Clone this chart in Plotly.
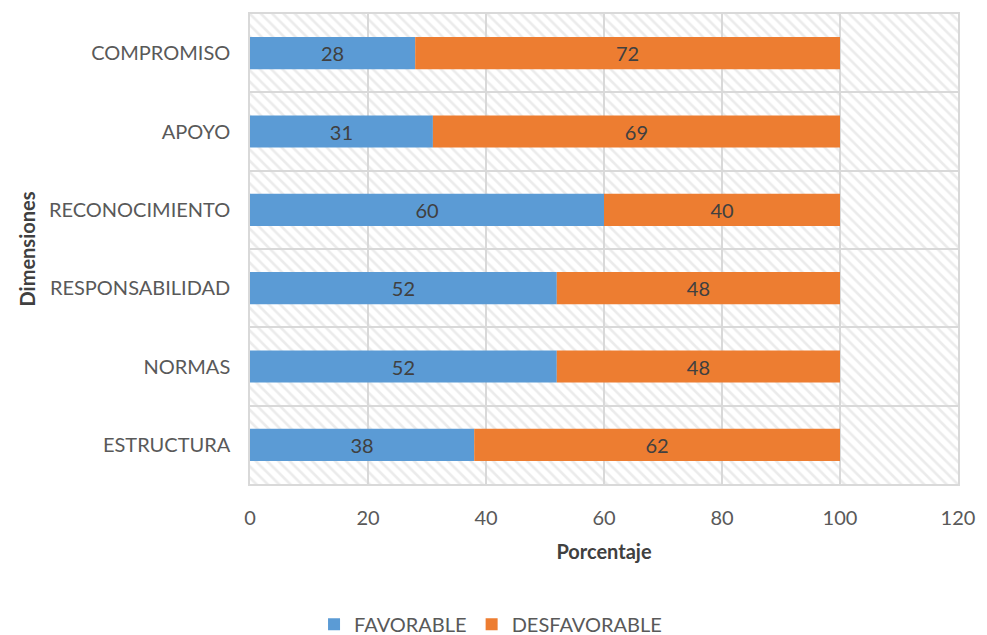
import plotly.graph_objects as go

# Survey dimensions, top to bottom as displayed
dimensiones = ["COMPROMISO", "APOYO", "RECONOCIMIENTO", "RESPONSABILIDAD", "NORMAS", "ESTRUCTURA"]
favorable = [28, 31, 60, 52, 52, 38]
desfavorable = [72, 69, 40, 48, 48, 62]
x_ticks = [0, 20, 40, 60, 80, 100, 120]

# numeric y positions so grid lines can sit between categories
n = len(dimensiones)
ypos = list(range(n - 1, -1, -1))

BLUE = "#5B9BD5"
ORANGE = "#ED7D31"
TEXT = "#595959"
GRID = "#d9d9d9"
FONT = "Lato"

fig = go.Figure()

# hatched plot-area background, one band per category (transparent so grid shows)
fig.add_trace(go.Bar(
    y=ypos, x=[x_ticks[-1]] * n, orientation="h", width=1,
    marker=dict(color="rgba(0,0,0,0)", line=dict(width=0),
                pattern=dict(shape="\\", fgcolor="#d8d8d8", bgcolor="rgba(0,0,0,0)",
                             size=8, solidity=0.33)),
    showlegend=False, hoverinfo="skip",
))

fig.add_trace(go.Bar(
    name="FAVORABLE", y=ypos, x=favorable, base=[0] * n, orientation="h",
    width=0.41, marker=dict(color=BLUE, line=dict(width=0)),
    text=favorable, textposition="inside", insidetextanchor="middle",
    textfont=dict(family=FONT, size=20, color="#404040"),
))
fig.add_trace(go.Bar(
    name="DESFAVORABLE", y=ypos, x=desfavorable, base=favorable, orientation="h",
    width=0.41, marker=dict(color=ORANGE, line=dict(width=0)),
    text=desfavorable, textposition="inside", insidetextanchor="middle",
    textfont=dict(family=FONT, size=20, color="#404040"),
))

fig.update_layout(
    width=987, height=635,
    margin=dict(l=250, r=23, t=13, b=151),
    barmode="overlay",
    plot_bgcolor="white", paper_bgcolor="white",
    font=dict(family=FONT, size=20, color=TEXT),
    uniformtext=dict(mode=False),
    legend=dict(orientation="h", xref="container", yref="container",
                x=0.497, xanchor="center", y=0.017, yanchor="middle",
                font=dict(family=FONT, size=20, color=TEXT), itemwidth=30,
                traceorder="normal", tracegroupgap=0),
    xaxis=dict(
        range=[0, 120], tickvals=x_ticks, showgrid=True, gridcolor=GRID, gridwidth=1.5,
        zeroline=False, showline=True, linecolor=GRID, linewidth=1.5, mirror=True,
        ticks="", ticklabelstandoff=15,
        title=dict(text="<b>Porcentaje</b>", font=dict(family=FONT, size=20, color="#404040"),
                   standoff=17),
    ),
    yaxis=dict(
        range=[-0.5, n - 0.5], tickvals=ypos, ticktext=dimensiones, showgrid=False,
        zeroline=False, showline=True, linecolor=GRID, linewidth=1.5, mirror=True,
        ticks="", ticklabelstandoff=14,
        minor=dict(tick0=0.5, dtick=1, showgrid=True, gridcolor=GRID, gridwidth=1.5,
                   ticks=""),
        title=dict(text="<b>Dimensiones</b>", font=dict(family=FONT, size=20, color="#404040"),
                   standoff=8),
    ),
)

fig.write_html("out.html")
